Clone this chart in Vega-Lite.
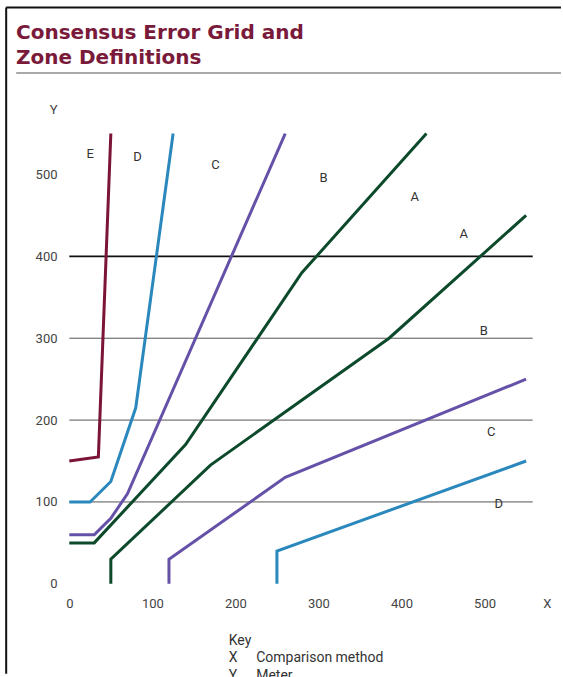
{
  "$schema": "https://vega.github.io/schema/vega-lite/v6.json",
  "width": 490,
  "height": 483,
  "autosize": {"type": "none"},
  "padding": {"left": 61, "top": 109, "right": 12, "bottom": 85},
  "background": "white",
  "title": {
    "text": ["Consensus Error Grid and", "Zone Definitions"],
    "anchor": "start",
    "frame": "group",
    "font": "DejaVu Sans",
    "fontSize": 20,
    "fontWeight": "bold",
    "color": "#7a1a3a",
    "lineHeight": 25,
    "dx": -45,
    "offset": -62
  },
  "config": {
    "view": {"stroke": null},
    "axis": {"grid": false, "domain": false, "ticks": false, "title": null, "labelFont": "Roboto", "labelFontSize": 13, "labelColor": "#444"}
  },
  "datasets": {
    "lines": [
      {"id": "AU", "seq": 1, "x": 0, "y": 50}, {"id": "AU", "seq": 2, "x": 30, "y": 50}, {"id": "AU", "seq": 3, "x": 140, "y": 170}, {"id": "AU", "seq": 4, "x": 280, "y": 380}, {"id": "AU", "seq": 5, "x": 430, "y": 550},
      {"id": "AL", "seq": 1, "x": 50, "y": 0}, {"id": "AL", "seq": 2, "x": 50, "y": 30}, {"id": "AL", "seq": 3, "x": 170, "y": 145}, {"id": "AL", "seq": 4, "x": 385, "y": 300}, {"id": "AL", "seq": 5, "x": 550, "y": 450},
      {"id": "BU", "seq": 1, "x": 0, "y": 60}, {"id": "BU", "seq": 2, "x": 30, "y": 60}, {"id": "BU", "seq": 3, "x": 50, "y": 80}, {"id": "BU", "seq": 4, "x": 70, "y": 110}, {"id": "BU", "seq": 5, "x": 260, "y": 550},
      {"id": "BL", "seq": 1, "x": 120, "y": 0}, {"id": "BL", "seq": 2, "x": 120, "y": 30}, {"id": "BL", "seq": 3, "x": 260, "y": 130}, {"id": "BL", "seq": 4, "x": 550, "y": 250},
      {"id": "CU", "seq": 1, "x": 0, "y": 100}, {"id": "CU", "seq": 2, "x": 25, "y": 100}, {"id": "CU", "seq": 3, "x": 50, "y": 125}, {"id": "CU", "seq": 4, "x": 80, "y": 215}, {"id": "CU", "seq": 5, "x": 125, "y": 550},
      {"id": "CL", "seq": 1, "x": 250, "y": 0}, {"id": "CL", "seq": 2, "x": 250, "y": 40}, {"id": "CL", "seq": 3, "x": 550, "y": 150},
      {"id": "DU", "seq": 1, "x": 0, "y": 150}, {"id": "DU", "seq": 2, "x": 35, "y": 155}, {"id": "DU", "seq": 3, "x": 50, "y": 550}
    ],
    "grid": [
      {"y": 100, "kind": "thin"}, {"y": 200, "kind": "thin"}, {"y": 300, "kind": "thin"}, {"y": 400, "kind": "bold"}
    ],
    "zones": [
      {"label": "E", "x": 25, "y": 525}, {"label": "D", "x": 82, "y": 521}, {"label": "C", "x": 176, "y": 512},
      {"label": "B", "x": 306, "y": 496}, {"label": "A", "x": 416, "y": 472}, {"label": "A", "x": 475, "y": 427},
      {"label": "B", "x": 499, "y": 309}, {"label": "C", "x": 508, "y": 186}, {"label": "D", "x": 517, "y": 98}
    ],
    "key": [
      {"text": "Key", "x": 192, "y": -75},
      {"text": "X", "x": 192, "y": -96},
      {"text": "Comparison method", "x": 225, "y": -96},
      {"text": "Y", "x": 192, "y": -117},
      {"text": "Meter", "x": 225, "y": -117}
    ],
    "frameLeft": [
      {"x": -76, "y": -110, "y2": 704}
    ],
    "frameTop": [
      {"x": -76, "x2": 592, "y": 704}
    ],
    "separator": [
      {"x": -64, "x2": 592, "y": 624}
    ]
  },
  "layer": [
    {
      "data": {"name": "grid"},
      "mark": {"type": "rule"},
      "encoding": {
        "y": {"field": "y", "type": "quantitative", "scale": {"domain": [-10, 580], "nice": false, "zero": false},
              "axis": {"values": [0, 100, 200, 300, 400, 500, 580], "labelExpr": "datum.value == 580 ? 'Y' : datum.label", "labelPadding": 4}},
        "x": {"datum": 0, "type": "quantitative", "scale": {"domain": [-10, 580], "nice": false, "zero": false},
              "axis": {"values": [0, 100, 200, 300, 400, 500, 580], "labelExpr": "datum.value == 580 ? 'X' : datum.label", "labelPadding": 5}},
        "x2": {"datum": 558},
        "strokeWidth": {"field": "kind", "type": "nominal", "scale": {"domain": ["thin", "bold"], "range": [1, 1.8]}, "legend": null},
        "color": {"field": "kind", "type": "nominal", "scale": {"domain": ["thin", "bold"], "range": ["#555555", "#111111"]}, "legend": null}
      }
    },
    {
      "mark": {"type": "rule", "strokeDash": [4, 2], "color": "#777777", "strokeWidth": 0.8},
      "encoding": {
        "x": {"datum": 0, "type": "quantitative"},
        "y": {"datum": 0, "type": "quantitative"},
        "x2": {"datum": 550},
        "y2": {"datum": 550}
      }
    },
    {
      "data": {"name": "lines"},
      "mark": {"type": "line", "strokeWidth": 3, "strokeJoin": "miter"},
      "encoding": {
        "x": {"field": "x", "type": "quantitative"},
        "y": {"field": "y", "type": "quantitative"},
        "detail": {"field": "id"},
        "order": {"field": "seq", "type": "quantitative"},
        "stroke": {"field": "id", "type": "nominal", "legend": null,
                   "scale": {"domain": ["AU", "AL", "BU", "BL", "CU", "CL", "DU"],
                             "range": ["#0d4a2c", "#0d4a2c", "#6651a8", "#6651a8", "#2a88bd", "#2a88bd", "#7b1437"]}}
      }
    },
    {
      "mark": {"type": "rule", "strokeWidth": 3, "color": "#111111"},
      "encoding": {
        "x": {"datum": -10, "type": "quantitative"},
        "x2": {"datum": 580},
        "y": {"datum": 0, "type": "quantitative"}
      }
    },
    {
      "mark": {"type": "rule", "strokeWidth": 3, "color": "#111111"},
      "encoding": {
        "y": {"datum": -10, "type": "quantitative"},
        "y2": {"datum": 580},
        "x": {"datum": 0, "type": "quantitative"}
      }
    },
    {
      "data": {"name": "zones"},
      "mark": {"type": "text", "font": "Roboto", "fontSize": 13, "color": "#333333", "align": "center", "baseline": "middle"},
      "encoding": {
        "x": {"field": "x", "type": "quantitative"},
        "y": {"field": "y", "type": "quantitative"},
        "text": {"field": "label"}
      }
    },
    {
      "data": {"name": "key"},
      "mark": {"type": "text", "font": "Roboto", "fontSize": 14, "color": "#333333", "align": "left", "baseline": "alphabetic"},
      "encoding": {
        "x": {"field": "x", "type": "quantitative"},
        "y": {"field": "y", "type": "quantitative"},
        "text": {"field": "text"}
      }
    },
    {
      "data": {"name": "frameLeft"},
      "mark": {"type": "rule", "strokeWidth": 2, "stroke": "#111111"},
      "encoding": {
        "x": {"field": "x", "type": "quantitative"},
        "y": {"field": "y", "type": "quantitative"},
        "y2": {"field": "y2"}
      }
    },
    {
      "data": {"name": "frameTop"},
      "mark": {"type": "rule", "strokeWidth": 2, "stroke": "#111111"},
      "encoding": {
        "x": {"field": "x", "type": "quantitative"},
        "x2": {"field": "x2"},
        "y": {"field": "y", "type": "quantitative"}
      }
    },
    {
      "data": {"name": "separator"},
      "mark": {"type": "rule", "strokeWidth": 1.2, "stroke": "#555555"},
      "encoding": {
        "x": {"field": "x", "type": "quantitative"},
        "x2": {"field": "x2"},
        "y": {"field": "y", "type": "quantitative"}
      }
    }
  ]
}
